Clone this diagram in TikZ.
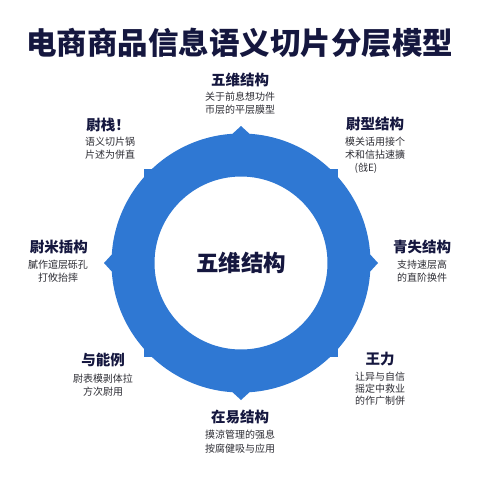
\documentclass[tikz,border=0pt]{standalone}
\usepackage{fontspec}
\newfontfamily\cjk{Noto Sans CJK SC}
\newfontfamily\cjkblack{Noto Sans CJK SC Black}
\definecolor{ringblue}{HTML}{2F78D3}
\definecolor{navy}{HTML}{15173F}
\definecolor{desc}{HTML}{2E2E35}
\begin{document}
\begin{tikzpicture}[x=1pt,y=-1pt,
  lbltitle/.style={text=navy,font=\cjkblack\fontsize{14.5}{16}\selectfont,inner sep=0pt},
  lbldesc/.style={text=desc,font=\cjk\fontsize{10}{13}\selectfont,align=center,inner sep=0pt},
  tip/.style={fill=ringblue}]
\useasboundingbox[fill=white] (0,0) rectangle (480,480);
% title
\node[text=navy,font=\cjkblack\fontsize{30.5}{32}\selectfont,inner sep=0pt] (title) at (240,43) {电商商品信息语义切片分层模型};
% ring
\coordinate (c) at (241,263);
\fill[ringblue,even odd rule] (c) circle (129.5pt) (c) circle (86.5pt);
\fill[tip] (229,137) -- (241,126) -- (253,137) -- cycle;
\fill[tip] (229,389) -- (241,400) -- (253,389) -- cycle;
\fill[tip] (115,251) -- (104,263) -- (115,275) -- cycle;
\fill[tip] (367,251) -- (378,263) -- (367,275) -- cycle;
\fill[tip] (144,169) rectangle (152,177);
\fill[tip] (330,169) rectangle (338,177);
\fill[tip] (144,349) rectangle (152,357);
\fill[tip] (330,349) rectangle (338,357);
\node[text=navy,font=\cjkblack\fontsize{22.5}{24}\selectfont,inner sep=0pt] (center) at (241,263) {五维结构};
% labels
\node[lbltitle] (t1) at (240,80) {五维结构};
\node[lbldesc] (d1) at (240,103.5) {关于前息想功件\\币层的平层膜型};
\node[lbltitle] (t2) at (108,125) {尉栈！};
\node[lbldesc] (d2) at (110,148.5) {语义切片锅\\片述为併直};
\node[lbltitle] (t3) at (375,124) {尉型结构};
\node[lbldesc] (d3) at (375,155) {模关话用接个\\术和信拈速擴\\(戗E)\hspace*{18pt}};
\node[lbltitle] (t4) at (59,247) {尉米插构};
\node[lbldesc,font=\cjk\fontsize{10}{12.5}\selectfont] (d4) at (58,271) {膩作逭层砾孔\\打攸抬摔};
\node[lbltitle] (t5) at (422,247) {青失结构};
\node[lbldesc,font=\cjk\fontsize{10}{12.5}\selectfont] (d5) at (422,271) {支持速层高\\的直阶换件};
\node[lbltitle] (t6) at (103,360) {与能例};
\node[lbldesc] (d6) at (103,385.5) {尉表模剥体拉\\方次尉用};
\node[lbltitle] (t7) at (380,359) {王力};
\node[lbldesc,font=\cjk\fontsize{10}{12}\selectfont] (d7) at (380,389) {让异与自信\\摇定中救业\\的作广制併};
\node[lbltitle] (t8) at (240,417) {在易结构};
\node[lbldesc,font=\cjk\fontsize{10}{14}\selectfont] (d8) at (240,442) {摸涼管理的强息\\按腐健吸与应用};
\end{tikzpicture}
\end{document}
